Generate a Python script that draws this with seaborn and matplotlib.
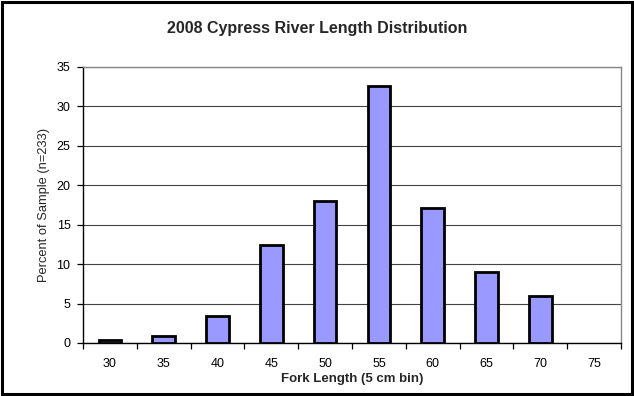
import matplotlib
matplotlib.use("Agg")
import matplotlib.pyplot as plt
from matplotlib.patches import Rectangle
from matplotlib.ticker import FixedLocator
import seaborn as sns
import pandas as pd

# Fork length bins (cm) and percent of sample in each bin (n=233)
bins = ["30", "35", "40", "45", "50", "55", "60", "65", "70", "75"]
percent = [0.43, 0.86, 3.43, 12.45, 18.03, 32.62, 17.17, 9.01, 6.01, 0.0]

df = pd.DataFrame({"bin": bins, "percent": percent})
drawn = df[df["percent"] > 0]

sns.set_theme(style="white")
plt.rcParams["font.family"] = ["Liberation Sans", "DejaVu Sans"]

fig = plt.figure(figsize=(6.34, 3.96), dpi=100)
ax = fig.add_axes([0.131, 0.134, 0.8485, 0.697])

sns.barplot(data=drawn, x="bin", y="percent", order=bins, color="#9999FF",
            edgecolor="black", linewidth=2.0, width=0.42, saturation=1,
            ax=ax, zorder=3)

ax.set_ylim(0, 35)
ax.set_xlim(-0.5, len(bins) - 0.5)
ax.set_yticks(range(0, 36, 5))
ax.yaxis.grid(True, color="#444444", linewidth=0.8, zorder=0)
ax.set_axisbelow(True)

fig.text(0.5, 0.928, "2008 Cypress River Length Distribution", ha="center",
         va="center", fontsize=11.5, fontweight="bold")
ax.set_xlabel("Fork Length (5 cm bin)", fontsize=9.5, fontweight="bold", labelpad=2)
ax.set_ylabel("Percent of Sample (n=233)", fontsize=9.3, labelpad=5)

ax.tick_params(axis="x", which="major", length=0, labelsize=9, pad=11, colors="black")
ax.xaxis.set_minor_locator(FixedLocator([i - 0.5 for i in range(len(bins) + 1)]))
ax.tick_params(axis="x", which="minor", bottom=True, length=4, width=0.9,
               direction="out", color="black")
ax.tick_params(axis="y", left=True, length=4, width=0.9, direction="out",
               labelsize=9, pad=5, colors="black")

for side in ["left", "bottom"]:
    ax.spines[side].set_color("black")
    ax.spines[side].set_linewidth(1.0)
for side in ["top", "right"]:
    ax.spines[side].set_color("#888888")
    ax.spines[side].set_linewidth(1.0)

# Outer chart frame
fig.patches.append(Rectangle((0.003, 0.004), 0.994, 0.991, transform=fig.transFigure,
                             fill=False, edgecolor="black", linewidth=2.2))

fig.savefig("out.png", dpi=100)
